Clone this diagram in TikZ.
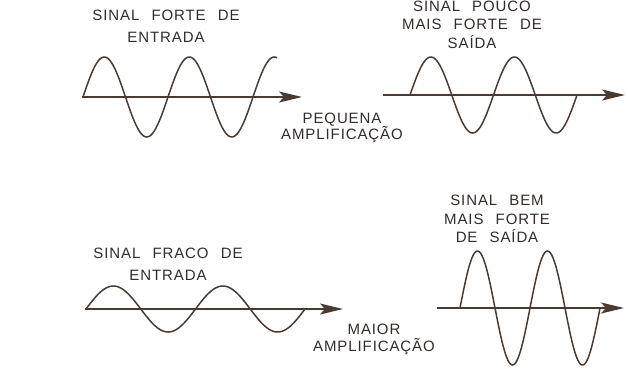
\documentclass[tikz,border=0pt]{standalone}
\usepackage{fontspec}
\newfontfamily\letterfont[LetterSpace=6,WordSpace=2.4]{Liberation Sans}
\usetikzlibrary{arrows.meta}
\definecolor{ink}{HTML}{4A3B32}
\definecolor{txt}{HTML}{332C29}

\begin{document}
\begin{tikzpicture}[x=1pt,y=-1pt,
  axisline/.style={ink,line width=1.7pt,-{Stealth[length=23pt,width=11pt,inset=5pt]}},
  wave/.style={ink,line width=1.5pt,smooth,samples=140},
  caption/.style={align=center,text=txt,inner sep=0pt,
    font=\letterfont\fontsize{15}{#1}\selectfont},
  caption/.default=22]

 \useasboundingbox (0,0) rectangle (628,368);

 % ---- strong input -> small amplification ----
 \coordinate (inA-start) at (82,97);
 \coordinate (inA-end) at (302,97);
 \draw[axisline] (inA-start) -- (inA-end);
 \draw[wave] plot[domain=0:194] ({83+\x},{97-40*sin(\x/85*360)});
 \node[caption] (inA) at (166,26) {SINAL FORTE DE\\ENTRADA};

 \node[caption=16.5] (gainA) at (342,128) {PEQUENA\\AMPLIFICAÇÃO};

 \coordinate (outA-start) at (383,95);
 \coordinate (outA-end) at (625,95);
 \draw[axisline] (outA-start) -- (outA-end);
 \draw[wave] plot[domain=0:167] ({410+\x},{95-38*sin(\x/83.5*360)});
 \node[caption=18.5] (outA) at (472,24.5) {SINAL POUCO\\MAIS FORTE DE\\SAÍDA};

 % ---- weak input -> large amplification ----
 \coordinate (inB-start) at (85,309);
 \coordinate (inB-end) at (343,309);
 \draw[axisline] (inB-start) -- (inB-end);
 \draw[wave] plot[domain=0:219] ({86+\x},{309-23*sin(\x/109.5*360)});
 \node[caption] (inB) at (168,264) {SINAL FRACO DE\\ENTRADA};

 \node[caption=17] (gainB) at (374,339) {MAIOR\\AMPLIFICAÇÃO};

 \coordinate (outB-start) at (437,308);
 \coordinate (outB-end) at (624,308);
 \draw[axisline] (outB-start) -- (outB-end);
 \draw[wave] plot[domain=0:140] ({460+\x},{308-57*sin(\x/70*360)});
 \node[caption=18.5] (outB) at (497,219) {SINAL BEM\\MAIS FORTE\\DE SAÍDA};
\end{tikzpicture}
\end{document}
